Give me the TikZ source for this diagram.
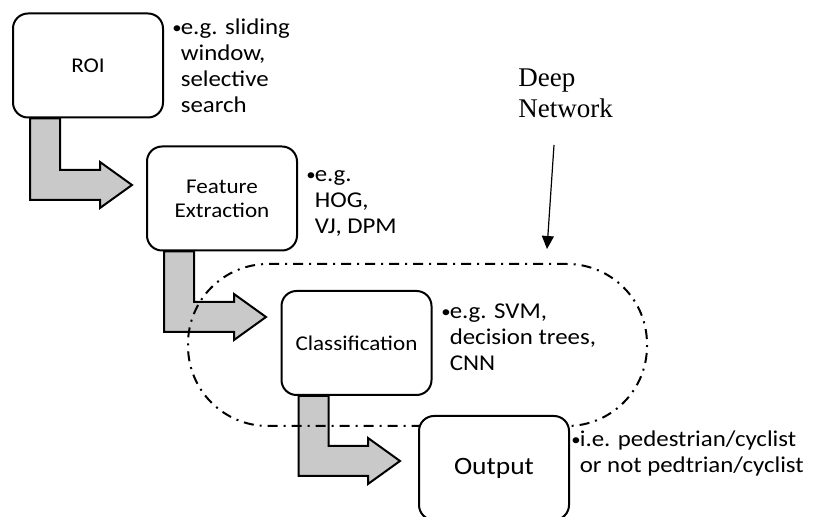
\documentclass[tikz,border=0pt]{standalone}
\usepackage{fontspec}
\setmainfont{Carlito}[FakeStretch=1.1]
\newfontfamily\dnfont{Liberation Serif}
\usetikzlibrary{arrows.meta,calc}

\tikzset{
	stage/.style={draw, line width=1pt, rounded corners=7.5pt, fill=white, minimum width=75pt, minimum height=52pt, align=center, font=\fontsize{10.5}{12}\selectfont},
	note/.style={anchor=base west, inner sep=0pt, font=\fontsize{11.3}{13}\selectfont},
	blockarrow/.style={draw, line width=1pt, fill=black!21, line join=miter},
	region/.style={draw, line width=1pt, rounded corners=40pt, dash pattern=on 5pt off 3pt on 1pt off 3pt},
	pointer/.style={-{Triangle[length=6.5pt,width=6pt]}, line width=0.6pt}
}
\newcommand{\bnote}[1]{\begin{tabular}[t]{@{}l@{}l@{}}\makebox[4.2pt][l]{\raisebox{0.8pt}{\fontsize{8.5}{8.5}\selectfont\textbullet}}&#1\end{tabular}}
\newcommand{\bendarrow}[2]{\draw[blockarrow] ($(#1.south west)+(18,0)$) coordinate (stem) -- ++(30,0) |- ($(#2)+(-32,-15)$) -- ++(0,-8) -- (#2) -- ++(-32,23) -- ++(0,-8) -| (stem) -- cycle;}

\begin{document}
\begin{tikzpicture}[x=0.5pt, y=-0.5pt]
	\useasboundingbox (0,0) rectangle (819,517);
	\node[stage] (roi) at (88,65.5) {ROI};
	\node[stage] (feat) at (222,198.5) {Feature\\Extraction};
	\node[stage] (cls) at (356.5,343) {Classification};
	\coordinate (tip1) at (132,185);
	\coordinate (tip2) at (266,317);
	\coordinate (tip3) at (400,461);
	\bendarrow{roi}{tip1}
	\bendarrow{feat}{tip2}
	\bendarrow{cls}{tip3}
	\node[region, minimum width=229.5pt, minimum height=81pt] (deepnet) at (417.5,345) {};
	\node[stage, font=\fontsize{12.5}{14}\selectfont] (out) at (494,468) {Output};
	\node[note] (roinote) at (172,35) {\bnote{e.g. sliding\\&window,\\&selective\\&search}};
	\node[note] (featnote) at (306,182) {\bnote{e.g.\\&HOG,\\&VJ, DPM}};
	\node[note] (clsnote) at (441,319) {\bnote{e.g. SVM,\\&decision trees,\\&CNN}};
	\node[note] (outnote) at (571,447) {\bnote{i.e. pedestrian/cyclist\\&or not pedtrian/cyclist}};
	\node[font=\dnfont\fontsize{13.5}{15.5}\selectfont, align=left, inner sep=0pt, anchor=south west] (dnlabel) at (518,118) {Deep\\Network};
	\draw[pointer] ($(dnlabel.south west)+(36,27)$) -- ($(deepnet.north)+(129.5,-14)$);
\end{tikzpicture}
\end{document}
